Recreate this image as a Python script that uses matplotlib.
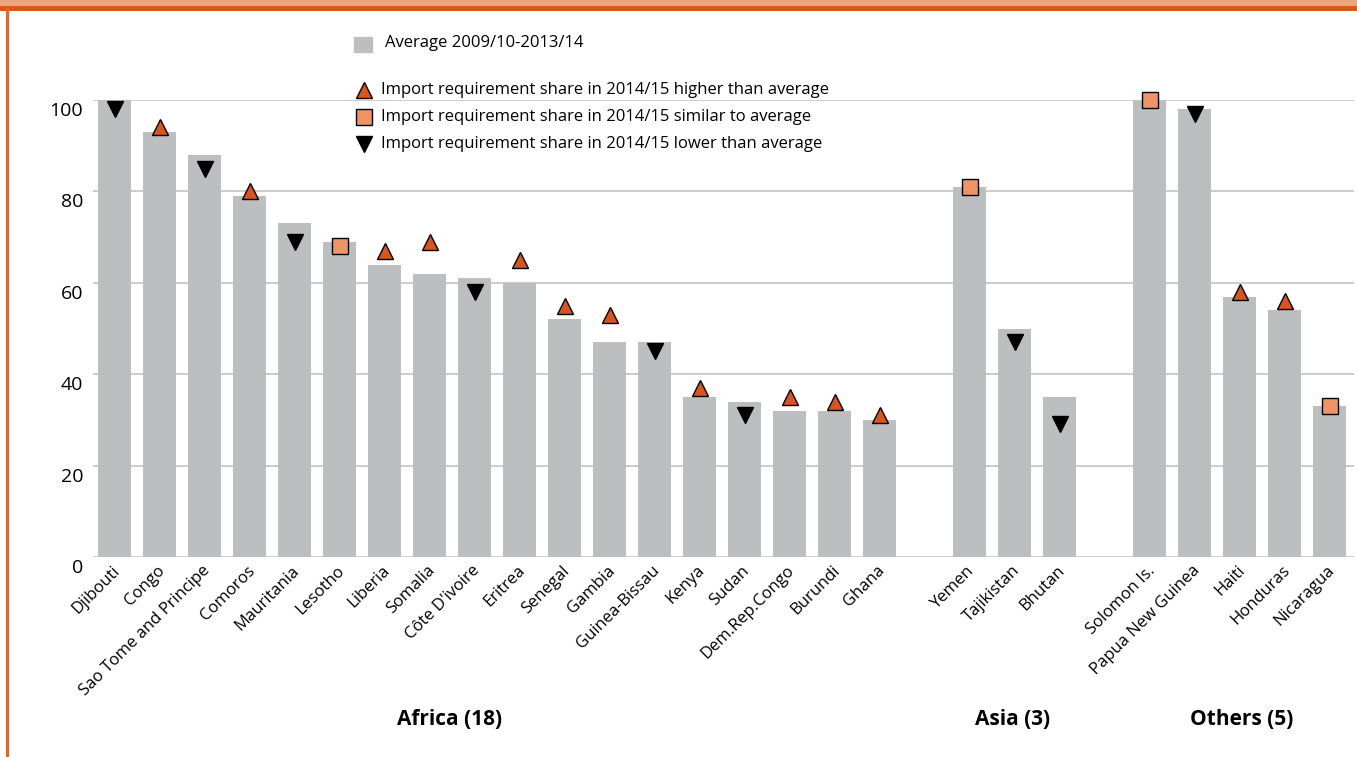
import numpy as np
import matplotlib.pyplot as plt
from matplotlib.lines import Line2D
from matplotlib.patches import Rectangle
from matplotlib.transforms import ScaledTranslation

plt.rcParams['font.family'] = ['Open Sans', 'DejaVu Sans']

# Data
africa = ['Djibouti', 'Congo', 'Sao Tome and Principe', 'Comoros', 'Mauritania',
          'Lesotho', 'Liberia', 'Somalia', "Côte D'ivoire", 'Eritrea', 'Senegal',
          'Gambia', 'Guinea-Bissau', 'Kenya', 'Sudan', 'Dem.Rep.Congo', 'Burundi', 'Ghana']
asia = ['Yemen', 'Tajikistan', 'Bhutan']
others = ['Solomon Is.', 'Papua New Guinea', 'Haiti', 'Honduras', 'Nicaragua']

africa_avg = [100, 93, 88, 79, 73, 69, 64, 62, 61, 60, 52, 47, 47, 35, 34, 32, 32, 30]
asia_avg = [81, 50, 35]
others_avg = [100, 98, 57, 54, 33]

africa_now = [98, 94, 85, 80, 69, 68, 67, 69, 58, 65, 55, 53, 45, 37, 31, 35, 34, 31]
asia_now = [81, 47, 29]
others_now = [100, 97, 58, 56, 33]

# 'h' higher, 's' similar, 'l' lower
africa_cls = ['l', 'h', 'l', 'h', 'l', 's', 'h', 'h', 'l', 'h', 'h', 'h', 'l', 'h', 'l', 'h', 'h', 'h']
asia_cls = ['s', 'l', 'l']
others_cls = ['s', 'l', 'h', 'h', 's']

groups = ['Africa (18)', 'Asia (3)', 'Others (5)']

names = africa + asia + others
avg = africa_avg + asia_avg + others_avg
now = africa_now + asia_now + others_now
cls = africa_cls + asia_cls + others_cls
pos = list(range(len(africa))) + \
    [len(africa) + 1 + i for i in range(len(asia))] + \
    [len(africa) + len(asia) + 2 + i for i in range(len(others))]

W, H = 1357, 757
fig = plt.figure(figsize=(W / 100, H / 100), dpi=100)
ax = fig.add_axes([93 / W, 1 - 557 / H, (1354 - 93) / W, (557 - 100) / H])

bar_col = '#bdbec0'
ax.bar(pos, avg, width=0.73, color=bar_col, zorder=2)

styles = {
    'h': dict(marker='^', mfc='#d9541e', mec='black', ms=11, mew=1),
    's': dict(marker='s', mfc='#ee9465', mec='black', ms=11, mew=1),
    'l': dict(marker='v', mfc='black', mec='black', ms=11, mew=1),
}
for x, y, c in zip(pos, now, cls):
    ax.plot([x], [y], ls='none', zorder=4, clip_on=False, **styles[c])

ax.set_xlim(-0.48, 27.54)
ax.set_ylim(0, 100)
ax.set_yticks([0, 20, 40, 60, 80, 100])
ax.yaxis.grid(True, color='#c4c4c4', lw=1.2, zorder=0)
ax.set_axisbelow(True)
for s in ax.spines.values():
    s.set_visible(False)
ax.tick_params(axis='both', length=0)
ax.tick_params(axis='y', labelsize=14, pad=7)
for lab in ax.get_yticklabels():
    lab.set_transform(lab.get_transform() + ScaledTranslation(0, -0.09, fig.dpi_scale_trans))

ax.set_xticks(pos)
ax.set_xticklabels(names, rotation=45, ha='right', va='top', rotation_mode='anchor', fontsize=12)
ax.tick_params(axis='x', pad=4)
for lab in ax.get_xticklabels():
    lab.set_transform(lab.get_transform() + ScaledTranslation(-0.03, 0, fig.dpi_scale_trans))

# group labels (Africa label sits left of its group centre in the original)
group_x = [7.45, 19.95, 25.05]
for gx, g in zip(group_x, groups):
    ax.text(gx, -0.355, g, transform=ax.get_xaxis_transform(), ha='center', va='center',
            fontsize=15, fontweight='bold')

def fpos(x, y):
    return x / W, 1 - y / H

# legend
fig.add_artist(Rectangle(fpos(354, 52), 18 / W, 15 / H, color=bar_col, transform=fig.transFigure))
fig.text(*fpos(385, 43), 'Average 2009/10-2013/14', fontsize=12, va='center')
leg = [('h', 90, 'Import requirement share in 2014/15 higher than average'),
       ('s', 117, 'Import requirement share in 2014/15 similar to average'),
       ('l', 144, 'Import requirement share in 2014/15 lower than average')]
for c, y, t in leg:
    st = dict(styles[c])
    fig.add_artist(Line2D([364 / W], [1 - y / H], ls='none', transform=fig.transFigure, **st))
    fig.text(*fpos(381, y), t, fontsize=12, va='center')

# orange frame
fig.add_artist(Rectangle((0, 1 - 6 / H), 1, 6 / H, color='#efa47d', transform=fig.transFigure, lw=0))
fig.add_artist(Rectangle((0, 1 - 11 / H), 1, 5 / H, color='#d9561f', transform=fig.transFigure, lw=0))
fig.add_artist(Rectangle((6 / W, 0), 2.5 / W, 1 - 8 / H, color='#e0652f', transform=fig.transFigure, lw=0))

fig.savefig('out.png', dpi=100)
